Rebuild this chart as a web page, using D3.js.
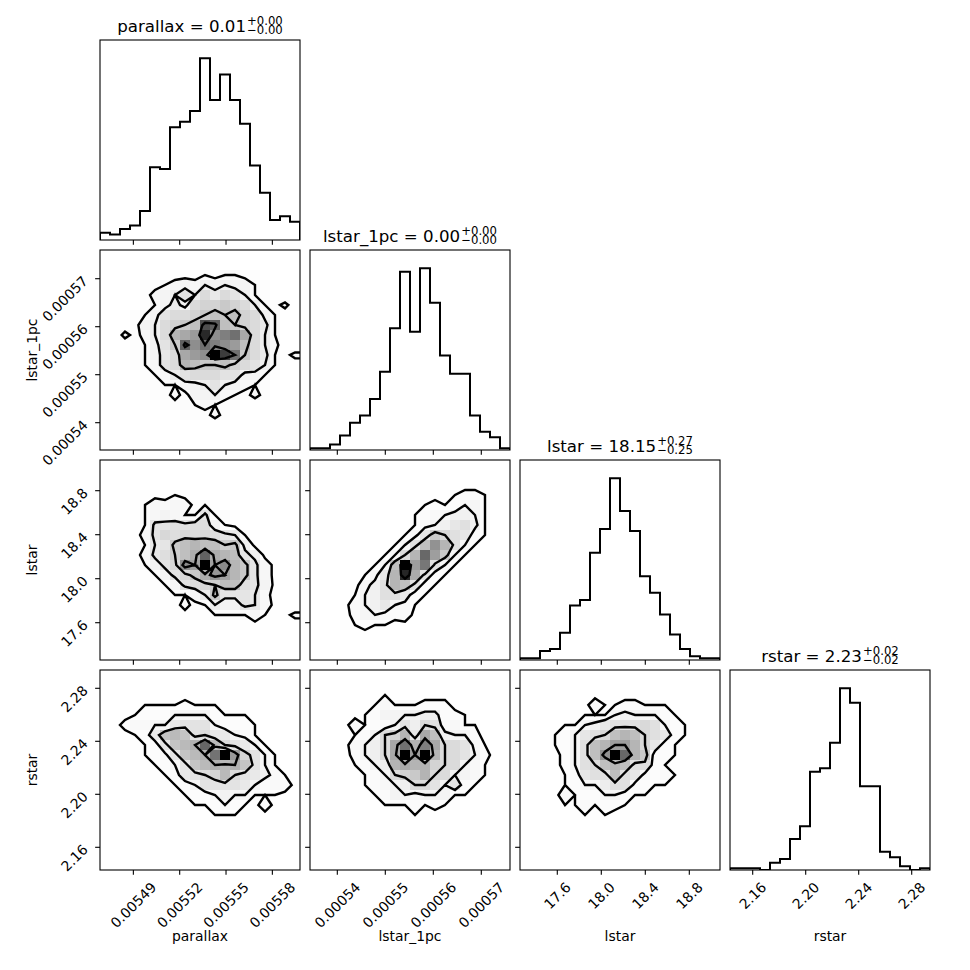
<!DOCTYPE html>
<html>
<head>
<meta charset="utf-8">
<script src="https://cdn.jsdelivr.net/npm/d3@7"></script>
<style>
  body { margin: 0; background: #fff; }
  text { font-family: "DejaVu Sans", sans-serif; fill: #000; }
</style>
</head>
<body>
<div id="corner"></div>
<script>
// parameters, plot ranges and ticks
var names = ["parallax", "lstar_1pc", "lstar", "rstar"];
var ranges = [
    [0.0054684, 0.0055979],
    [0.00053431, 0.00057598],
    [17.261, 19.079],
    [2.14287, 2.29381]
];
var tickVals = [
    [0.00549, 0.00552, 0.00555, 0.00558],
    [0.00054, 0.00055, 0.00056, 0.00057],
    [17.6, 18.0, 18.4, 18.8],
    [2.16, 2.20, 2.24, 2.28]
];
var tickText = [
    ["0.00549", "0.00552", "0.00555", "0.00558"],
    ["0.00054", "0.00055", "0.00056", "0.00057"],
    ["17.6", "18.0", "18.4", "18.8"],
    ["2.16", "2.20", "2.24", "2.28"]
];
var titleMain = ["parallax = 0.01", "lstar_1pc = 0.00", "lstar = 18.15", "rstar = 2.23"];
var titleUp   = ["+0.00", "+0.00", "+0.27", "+0.02"];
var titleDown = ["\u22120.00", "\u22120.00", "\u22120.25", "\u22120.02"];

// 1d histograms, 20 bins across each range
var histParallax = [4, 3, 6, 8, 16, 40, 39, 62, 65, 71, 100, 77, 91, 77, 64, 41, 26, 11, 13, 10];
var histLstar1pc = [1, 1, 3, 8, 15, 19, 28, 43, 67, 98, 65, 100, 81, 52, 42, 42, 19, 10, 7, 1];
var histLstar    = [1, 1, 5, 6, 15, 30, 33, 59, 72, 100, 82, 71, 46, 37, 25, 14, 6, 2, 1, 1];
var histRstar    = [1, 1, 1, 0, 4, 6, 17, 24, 54, 56, 70, 100, 92, 46, 46, 10, 7, 2, 0, 1];

// 2d histograms, 20x20 bins, top row first, one base-36 count per bin
var gridLstar1pcParallax = [
    "00000000000000000000", "00000101011111101000", "00011112223233221000", "00112234546565532110",
    "00112456869798632100", "0011235759aaba963241", "011235899abcbca95310", "0112569abckjcba97310",
    "0142469defmghie96310", "0112358bjgihgfc96410", "01123579efgolib97324", "00123489dcbbca986311",
    "00112346899988553210", "00112233556865432110", "00011224255643242100", "00001122334322111000",
    "00000111222421110000", "00000011111111000000", "00000001010101000000", "00000000000000000000"
];
var gridLstarParallax = [
    "00000000000000000000", "00010000010000000000", "01111111101000000000", "01122223211110000000",
    "01123545523211000000", "01123565339332100000", "0012399a9aa632110000", "001159bababa98321000",
    "0001389defeecd721100", "001159acegmgfe972100", "0012369bjhshjfd95210", "00112369bdgihfd95210",
    "000122359abceea96210", "00001223358d99984210", "00001122423866985210", "00000112222333353224",
    "00000011111222222111", "00000000111111111110", "00000000000010101000", "00000000000000000000"
];
var gridLstarLstar1pc = [
    "00000000000000000000", "00000000000000000100", "00000000000000011110", "00000000000111233210",
    "00000000001232355210", "00000000012345665210", "00000000112456896210", "000000011248ca983210",
    "00000011259dhe952100", "000001125aekgc521100", "00001125dqgj95211000", "00001248eof932110000",
    "00011469ed9321100000", "00012569973211000000", "00114568542110000000", "00113554341100000000",
    "01122322111000000000", "00111111100000000000", "00001010000000000000", "00000000000000000000"
];
var gridRstarParallax = [
    "00000000000000000000", "00000000000000000000", "00001111111000000000", "01112222322211100000",
    "01123335555322210000", "01344558999533321000", "011238ded9a885421000", "0012239deflea9852100",
    "00112349defkrhb95210", "000122359defefd95210", "0001122389abea986421", "00001122359999853441",
    "00001112233565522210", "00000111222353214110", "00000011112222211110", "00000001111111111000",
    "00000000010101010000", "00000000000000000000", "00000000000000000000", "00000000000000000000"
];
var gridRstarLstar1pc = [
    "00000000000000000000", "00000000100000000000", "00000012111111000000", "00001124222333110000",
    "00011235555663321000", "00014233586983422100", "00012359ad7ec6553100", "00014569eidhe9984210",
    "00013569eofod9985310", "00012356dedda9954210", "000112359abd99554210", "00001234569985832110",
    "00001123554555221100", "00001112223232211100", "00000111212212111000", "00000011111111110000",
    "00000001011010100000", "00000001000000100000", "00000000000000000000", "00000000000000000000"
];
var gridRstarLstar = [
    "00000000000000000000", "00000000000000000000", "00000001111111010000", "00001114223322211000",
    "00011222256555321000", "000122568999a9532100", "00123589adeda9832100", "0012359deggea8321100",
    "0011359dhqkec3321000", "0011359aded993221100", "000123899d9843421100", "00012355799432211000",
    "00014233553221110000", "00012242332211100000", "00011222212111000000", "00001111111110000000",
    "00000010101000000000", "00000000010000000000", "00000000000000000000", "00000000000000000000"
];

var hist1d = [histParallax, histLstar1pc, histLstar, histRstar];
var hist2d = {
    "1,0": gridLstar1pcParallax,
    "2,0": gridLstarParallax,
    "2,1": gridLstarLstar1pc,
    "3,0": gridRstarParallax,
    "3,1": gridRstarLstar1pc,
    "3,2": gridRstarLstar
};

var K = 4, size = 200, gap = 10, marginLeft = 100, marginTop = 40;
var nb = 20;
var tickLen = 4.86, tickPad = 4.86;

var svg = d3.select("#corner").append("svg")
    .attr("width", 970)
    .attr("height", 970);
var defs = svg.append("defs");

function parseGrid(rows) {
    return rows.map(function(r) {
        return r.split("").map(function(ch) { return parseInt(ch, 36); });
    });
}

// same recipe as corner: levels enclosing 0.5, 1, 1.5, 2 sigma of the mass
function contourLevels(H) {
    var flat = [].concat.apply([], H).sort(function(a, b) { return b - a; });
    var total = d3.sum(flat), cum = 0;
    var sm = flat.map(function(v) { cum += v; return cum / total; });
    var V = [0.5, 1, 1.5, 2].map(function(s) {
        var v0 = 1 - Math.exp(-0.5 * s * s);
        var idx = -1;
        for (var k = 0; k < sm.length; k++) if (sm[k] <= v0) idx = k;
        return idx < 0 ? flat[0] : flat[idx];
    });
    V.sort(function(a, b) { return a - b; });
    for (var k = 1; k < V.length; k++) if (V[k] <= V[k - 1]) V[k - 1] *= 1 - 1e-4;
    return V;
}

// pad with the edge values like corner does so the contours close
function padGrid(H) {
    var n = H.length, m = H[0].length, P = [];
    for (var r = 0; r < n + 4; r++) {
        P.push([]);
        for (var c = 0; c < m + 4; c++) P[r].push(0);
    }
    for (var r = 0; r < n + 2; r++) {
        for (var c = 0; c < m + 2; c++) {
            var rr = Math.min(Math.max(r - 1, 0), n - 1);
            var cc = Math.min(Math.max(c - 1, 0), m - 1);
            P[r + 1][c + 1] = H[rr][cc];
        }
    }
    return [].concat.apply([], P);
}

function bottomTicks(g, x, j, y0, withLabels) {
    tickVals[j].forEach(function(v, k) {
        g.append("line")
            .attr("x1", x(v)).attr("x2", x(v))
            .attr("y1", y0 + size).attr("y2", y0 + size + tickLen)
            .attr("stroke", "#000").attr("stroke-width", 1.1);
        if (!withLabels) return;
        var t = g.append("text")
            .attr("text-anchor", "middle")
            .attr("dominant-baseline", "central")
            .style("font-size", "13.9px")
            .text(tickText[j][k]);
        var hr = (t.node().getComputedTextLength() + 14) / Math.SQRT2;
        t.attr("transform", "translate(" + x(v) + "," + (y0 + size + tickLen + tickPad + hr / 2) + ") rotate(-45)");
    });
}

function leftTicks(g, y, i, x0, withLabels) {
    tickVals[i].forEach(function(v, k) {
        g.append("line")
            .attr("x1", x0 - tickLen).attr("x2", x0)
            .attr("y1", y(v)).attr("y2", y(v))
            .attr("stroke", "#000").attr("stroke-width", 1.1);
        if (!withLabels) return;
        var t = g.append("text")
            .attr("text-anchor", "middle")
            .attr("dominant-baseline", "central")
            .style("font-size", "13.9px")
            .text(tickText[i][k]);
        var hr = (t.node().getComputedTextLength() + 14) / Math.SQRT2;
        t.attr("transform", "translate(" + (x0 - tickLen - tickPad - hr / 2) + "," + (y(v) + hr / 2 - 5.3) + ") rotate(-45)");
    });
}

// title with stacked upper / lower errors, one text element
function drawTitle(g, i, cx, baseY) {
    var t = g.append("text")
        .attr("x", cx).attr("y", baseY)
        .attr("text-anchor", "middle")
        .style("font-size", "16.67px");
    t.append("tspan").text(titleMain[i]);
    var up = t.append("tspan")
        .attr("dx", 1).attr("dy", -6.9)
        .style("font-size", "11.7px")
        .text(titleUp[i]);
    var wu = up.node().getComputedTextLength();
    t.append("tspan")
        .attr("dx", -wu).attr("dy", 9.3)
        .style("font-size", "11.7px")
        .text(titleDown[i]);
}

for (var i = 0; i < K; i++) {
    for (var j = 0; j <= i; j++) {
        var x0 = marginLeft + j * (size + gap), y0 = marginTop + i * (size + gap);
        var g = svg.append("g");
        var clipId = "clip" + i + j;
        defs.append("clipPath").attr("id", clipId)
            .append("rect").attr("x", x0).attr("y", y0).attr("width", size).attr("height", size);
        var x = d3.scaleLinear().domain(ranges[j]).range([x0, x0 + size]);
        var bwX = (ranges[j][1] - ranges[j][0]) / nb;
        var body = g.append("g").attr("clip-path", "url(#" + clipId + ")");

        if (i === j) {
            var counts = hist1d[i];
            var yh = d3.scaleLinear().domain([0, 1.1 * d3.max(counts)]).range([y0 + size, y0]);
            var pts = [[ranges[j][0], 0]];
            counts.forEach(function(c, b) {
                pts.push([ranges[j][0] + b * bwX, c]);
                pts.push([ranges[j][0] + (b + 1) * bwX, c]);
            });
            pts.push([ranges[j][1], 0]);
            body.append("path")
                .attr("d", d3.line().x(function(d) { return x(d[0]); }).y(function(d) { return yh(d[1]); })(pts))
                .attr("fill", "none")
                .attr("stroke", "#000")
                .attr("stroke-width", 2);
            drawTitle(g, i, x0 + size / 2, y0 - 8.3);
        } else {
            var y = d3.scaleLinear().domain(ranges[i]).range([y0 + size, y0]);
            var bwY = (ranges[i][1] - ranges[i][0]) / nb;
            var Hg = parseGrid(hist2d[i + "," + j]);
            var hmax = d3.max(Hg, function(r) { return d3.max(r); });
            var cells = [];
            Hg.forEach(function(row, r) {
                row.forEach(function(v, c) { if (v > 0) cells.push({r: r, c: c, v: v}); });
            });
            body.selectAll("rect.cell").data(cells).enter().append("rect")
                .attr("class", "cell")
                .attr("x", function(d) { return x(ranges[j][0] + d.c * bwX); })
                .attr("y", function(d) { return y(ranges[i][1] - d.r * bwY); })
                .attr("width", function(d) { return x(ranges[j][0] + (d.c + 1) * bwX) - x(ranges[j][0] + d.c * bwX) + 0.3; })
                .attr("height", function(d) { return y(ranges[i][1] - (d.r + 1) * bwY) - y(ranges[i][1] - d.r * bwY) + 0.3; })
                .attr("fill", function(d) {
                    var a = d.v / hmax, gl = Math.round(255 * (1 - a * a));
                    return d3.rgb(gl, gl, gl).toString();
                });

            var V = contourLevels(Hg);
            var contours = d3.contours()
                .size([nb + 4, nb + 4])
                .thresholds(V.map(function(v) { return v + 1e-6; }))(padGrid(Hg));
            var proj = d3.geoTransform({
                point: function(px, py) {
                    this.stream.point(x(ranges[j][0] + (px - 2) * bwX), y(ranges[i][1] - (py - 2) * bwY));
                }
            });
            body.selectAll("path.level").data(contours).enter().append("path")
                .attr("class", "level")
                .attr("d", d3.geoPath(proj))
                .attr("fill", "none")
                .attr("stroke", "#000")
                .attr("stroke-width", 2.4)
                .attr("stroke-linejoin", "miter");

            leftTicks(g, y, i, x0, j === 0);
            if (j === 0) {
                g.append("text")
                    .attr("text-anchor", "middle")
                    .attr("transform", "translate(37," + (y0 + size / 2) + ") rotate(-90)")
                    .style("font-size", "13.9px")
                    .text(names[i]);
            }
        }

        bottomTicks(g, x, j, y0, i === K - 1);
        if (i === K - 1) {
            g.append("text")
                .attr("x", x0 + size / 2)
                .attr("y", y0 + size + 71)
                .attr("text-anchor", "middle")
                .style("font-size", "13.9px")
                .text(names[j]);
        }
        g.append("rect")
            .attr("x", x0).attr("y", y0)
            .attr("width", size).attr("height", size)
            .attr("fill", "none")
            .attr("stroke", "#000")
            .attr("stroke-width", 1.1);
    }
}
</script>
</body>
</html>
